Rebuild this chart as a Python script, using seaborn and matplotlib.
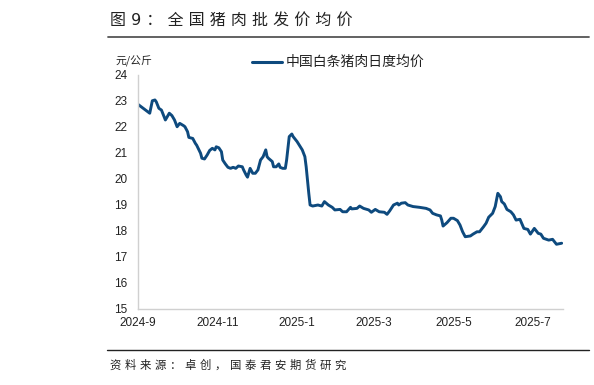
import matplotlib
matplotlib.use("Agg")
import matplotlib.pyplot as plt
import matplotlib.dates as mdates
from matplotlib.ticker import FuncFormatter
from matplotlib.lines import Line2D
import seaborn as sns
import pandas as pd

# ---- data ----
start_date = "2024-09-01"
day_offsets = [0, 9, 11, 13, 14, 16, 18, 21, 24, 26, 28, 30, 32, 35, 36, 38, 39, 42, 44, 45,
               48, 49, 51, 53, 55, 57, 59, 60, 62, 64, 65, 67, 69, 71, 73, 75, 77, 80, 81, 83,
               84, 86, 88, 90, 92, 94, 96, 98, 99, 100, 103, 104, 106, 108, 109, 111, 113, 114,
               116, 118, 119, 122, 126, 128, 129, 131, 132, 134, 138, 141, 143, 146, 149, 151,
               155, 157, 160, 163, 164, 168, 170, 173, 177, 179, 182, 185, 189, 191, 193, 196,
               199, 200, 202, 205, 207, 211, 216, 221, 224, 226, 229, 232, 233, 234, 237, 240,
               242, 245, 247, 249, 251, 255, 257, 260, 262, 265, 267, 269, 272, 274, 276, 278,
               279, 281, 283, 286, 288, 290, 293, 296, 299, 301, 304, 307, 309, 311, 315, 318,
               321, 325]
prices = [22.87, 22.53, 23.01, 23.04, 22.97, 22.72, 22.65, 22.27, 22.53, 22.44, 22.27, 22.01,
          22.14, 22.05, 22.01, 21.82, 21.60, 21.56, 21.37, 21.30, 20.99, 20.80, 20.77, 20.92,
          21.10, 21.18, 21.12, 21.24, 21.20, 21.05, 20.73, 20.58, 20.45, 20.41, 20.45, 20.41,
          20.50, 20.47, 20.35, 20.15, 20.07, 20.41, 20.22, 20.22, 20.35, 20.73, 20.86, 21.12,
          20.86, 20.80, 20.67, 20.47, 20.47, 20.58, 20.45, 20.41, 20.41, 20.73, 21.63, 21.73,
          21.63, 21.44, 21.12, 20.86, 20.47, 19.45, 19.00, 18.96, 19.00, 18.96, 19.13, 19.00,
          18.91, 18.81, 18.83, 18.74, 18.74, 18.91, 18.85, 18.87, 18.96, 18.87, 18.81, 18.72,
          18.83, 18.74, 18.72, 18.64, 18.77, 19.00, 19.07, 19.00, 19.07, 19.09, 19.00, 18.94,
          18.91, 18.87, 18.81, 18.68, 18.62, 18.58, 18.42, 18.19, 18.32, 18.49, 18.49, 18.40,
          18.23, 17.97, 17.78, 17.81, 17.88, 17.97, 17.97, 18.16, 18.30, 18.53, 18.68, 18.94,
          19.45, 19.32, 19.13, 19.04, 18.83, 18.74, 18.62, 18.42, 18.45, 18.10, 18.06, 17.88,
          18.10, 17.91, 17.88, 17.72, 17.65, 17.68, 17.49, 17.53]
series_name = "中国白条猪肉日度均价"
unit_label = "元/公斤"
title_text = "图 9：全国猪肉批发价均价"
source_text = "资料来源：卓创，国泰君安期货研究"
y_ticks = [15, 16, 17, 18, 19, 20, 21, 22, 23, 24]
x_tick_dates = ["2024-09-01", "2024-11-01", "2025-01-01", "2025-03-01", "2025-05-01", "2025-07-01"]
x_end_date = "2025-07-24"

df = pd.DataFrame({
    "date": pd.Timestamp(start_date) + pd.to_timedelta(day_offsets, unit="D"),
    "price": prices,
    "series": series_name,
})

sns.set_theme(style="white")
plt.rcParams["font.family"] = ["Liberation Sans", "Noto Sans CJK SC", "DejaVu Sans"]
spaced_fam = ["DejaVu Sans", "Noto Sans CJK SC"]
cjk = ["Noto Sans CJK SC", "DejaVu Sans"]


def spaced(s):
    # letter-spaced rendering like the reference (visual spacing only)
    return " ".join(ch for ch in s if ch != " ")


fig = plt.figure(figsize=(5.94, 3.85), dpi=100)
ax = fig.add_axes([138 / 594, 1 - 309 / 385, (563 - 138) / 594, (309 - 75) / 385])

line_color = "#0e4a7e"
sns.lineplot(data=df, x="date", y="price", hue="series", palette=[line_color],
             linewidth=2.1, ax=ax, legend=False)

ax.set_xlim(pd.Timestamp(start_date), pd.Timestamp(x_end_date))
ax.set_ylim(15, 24)
ax.set_yticks(y_ticks)
ax.set_xticks(pd.to_datetime(x_tick_dates))
ax.xaxis.set_major_formatter(FuncFormatter(
    lambda v, p: f"{mdates.num2date(v).year}-{mdates.num2date(v).month}"))
ax.set_xlabel("")
ax.set_ylabel("")

spine_color = "#d0d0d0"
for s in ["top", "right"]:
    ax.spines[s].set_visible(False)
for s in ["left", "bottom"]:
    ax.spines[s].set_color(spine_color)
    ax.spines[s].set_linewidth(1.0)
ax.tick_params(axis="both", direction="in", length=3, width=0.8, color=spine_color,
               labelsize=8.5, labelcolor="#222222")
ax.tick_params(axis="y", pad=7.5)
ax.tick_params(axis="x", pad=6)
for lab in ax.get_xticklabels() + ax.get_yticklabels():
    lab.set_fontfamily(["Liberation Sans", "DejaVu Sans"])

# legend-like line + text
fig.add_artist(Line2D([252 / 594, 282 / 594], [1 - 62 / 385, 1 - 62 / 385],
                      color=line_color, linewidth=2.2))
fig.text(286 / 594, 1 - 62 / 385, series_name, family=cjk, fontsize=10,
         color="#222222", va="center", ha="left")
fig.text(115 / 594, 1 - 61.5 / 385, unit_label, family=cjk, fontsize=7.8,
         color="#222222", va="center", ha="left", style="italic")

# title and rules
fig.text(110 / 594, 1 - 20 / 385, spaced(title_text), family=spaced_fam, fontsize=11.5,
         color="#222222", va="center", ha="left")
fig.add_artist(Line2D([108 / 594, 589 / 594], [1 - 36.5 / 385, 1 - 36.5 / 385],
                      color="#555555", linewidth=1.3))
fig.add_artist(Line2D([107 / 594, 589 / 594], [1 - 350 / 385, 1 - 350 / 385],
                      color="#222222", linewidth=1.0))
fig.text(110 / 594, 1 - 365 / 385, spaced(source_text), family=spaced_fam, fontsize=8.2,
         color="#222222", va="center", ha="left")

fig.savefig("out.png", dpi=100)
